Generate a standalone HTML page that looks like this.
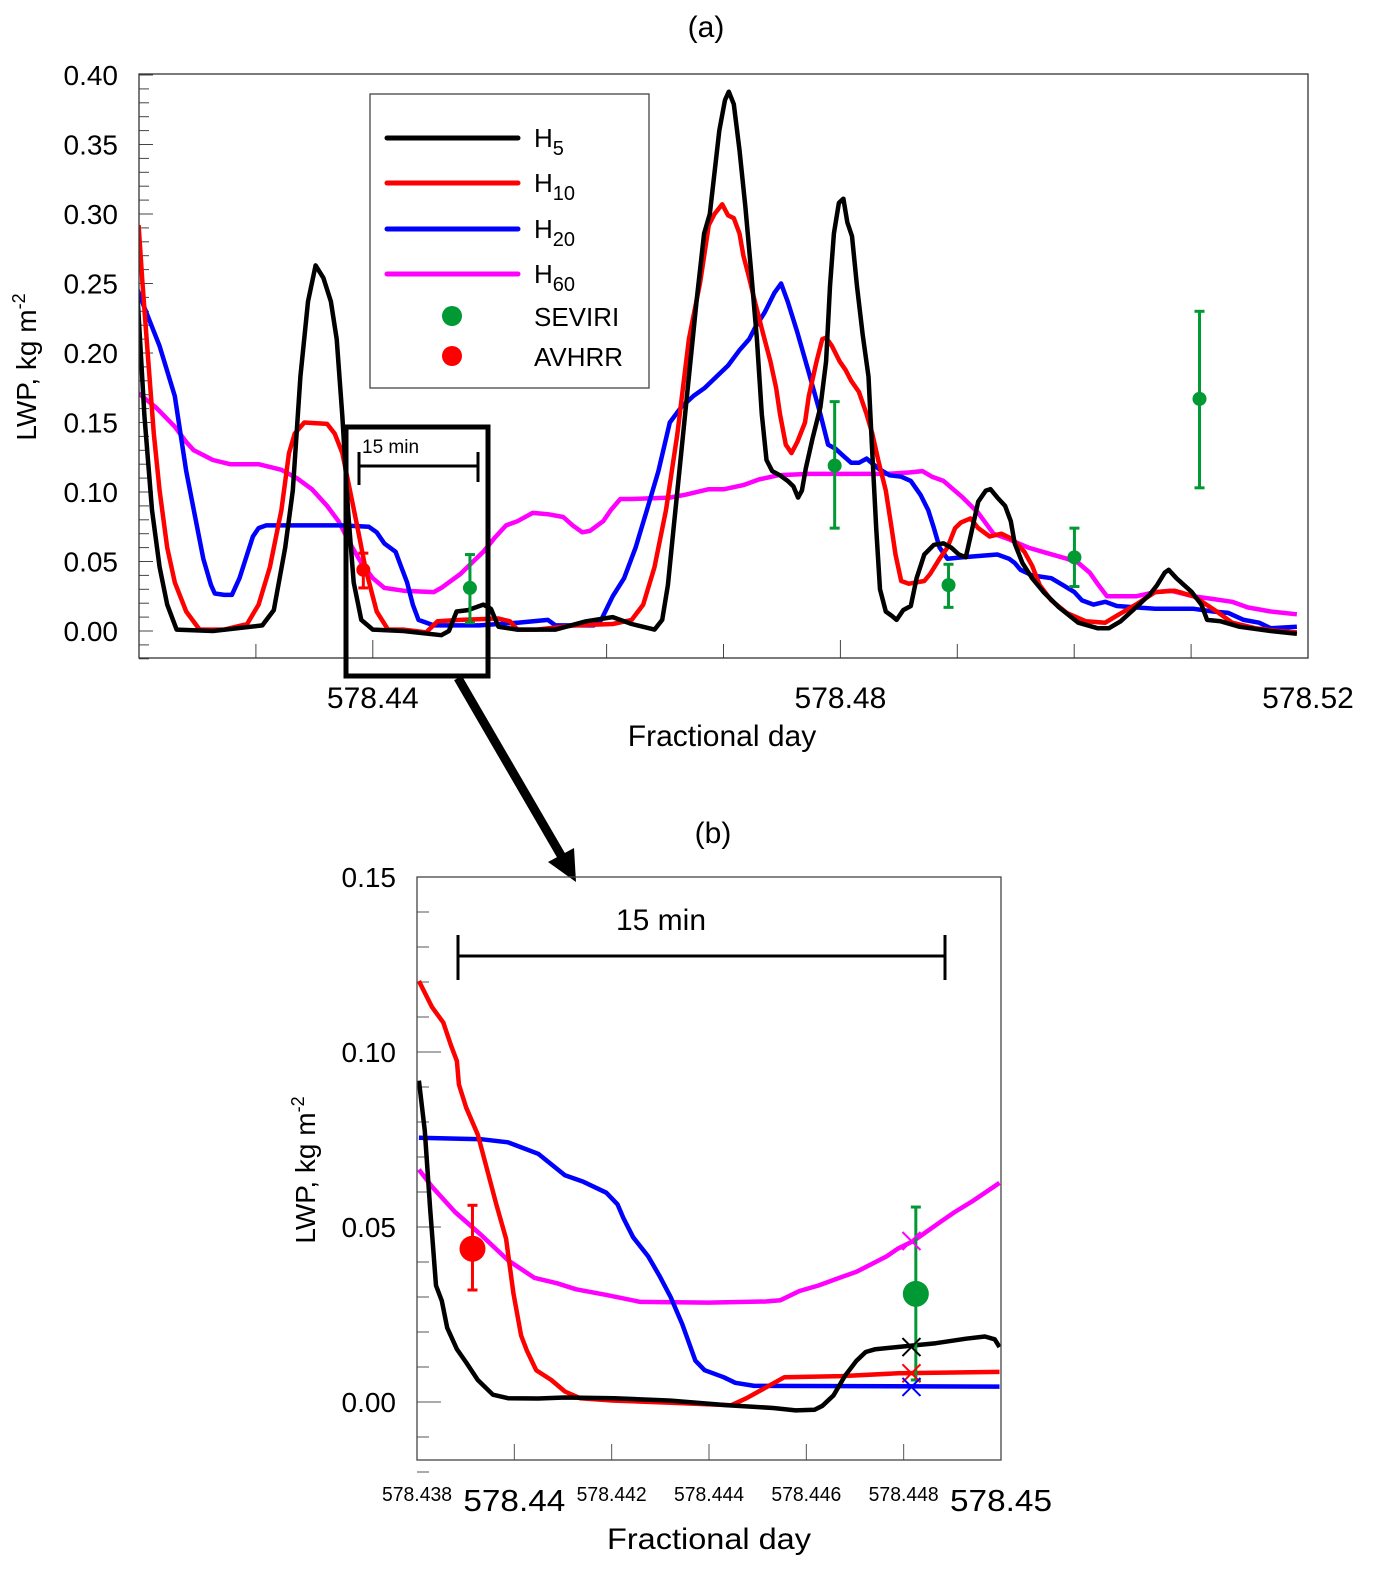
<!DOCTYPE html>
<html><head><meta charset="utf-8"><style>
html,body{margin:0;padding:0;background:#fff;}
svg{display:block;font-family:"Liberation Sans",Arial,sans-serif;}
</style></head><body>
<svg id="fig" width="1383" height="1584" viewBox="0 0 1383 1584" xmlns="http://www.w3.org/2000/svg">
<rect width="1383" height="1584" fill="#fff"/>
</svg>
<script>
// ---------- data: panel (a) ----------
const h5A = [[578.4198,0.251],[578.42046,0.155],[578.42111,0.087],[578.42176,0.046],[578.42241,0.019],[578.42322,0.001],[578.42632,0],[578.43055,0.004],[578.43153,0.015],[578.43251,0.060],[578.43316,0.101],[578.43381,0.183],[578.43446,0.237],[578.43511,0.263],[578.43577,0.254],[578.43642,0.237],[578.43691,0.210],[578.43739,0.155],[578.43788,0.087],[578.43837,0.035],[578.43902,0.008],[578.44,0.001],[578.44261,0],[578.44586,-0.003],[578.44651,0],[578.44717,0.014],[578.44814,0.015],[578.44945,0.019],[578.4501,0.016],[578.45075,0.003],[578.45238,0.001],[578.45564,0.001],[578.45824,0.007],[578.46052,0.010],[578.46215,0.005],[578.4641,0.001],[578.46476,0.008],[578.46524,0.033],[578.46573,0.074],[578.46638,0.128],[578.46704,0.183],[578.46769,0.237],[578.46834,0.286],[578.46883,0.300],[578.46964,0.360],[578.47013,0.382],
[578.47045,0.388],[578.47088,0.379],[578.47137,0.346],[578.47187,0.305],[578.47236,0.259],[578.47286,0.210],[578.47328,0.156],[578.47368,0.123],[578.47417,0.115],[578.47483,0.112],[578.47549,0.108],[578.47598,0.104],[578.47638,0.096],[578.47671,0.101],[578.47704,0.117],[578.47763,0.139],[578.47829,0.161],[578.47878,0.194],[578.47911,0.248],[578.47944,0.286],[578.47987,0.308],[578.48026,0.311],[578.48059,0.294],[578.48099,0.284],[578.48142,0.248],[578.48191,0.213],[578.4824,0.183],[578.48273,0.128],[578.48306,0.074],[578.48339,0.030],[578.48388,0.014],[578.48438,0.011],[578.48481,0.008],[578.48537,0.015],[578.48602,0.018],[578.48652,0.038],[578.48718,0.055],[578.488,0.062],[578.48882,0.063],[578.48948,0.060],[578.49014,0.055],[578.49073,0.053],[578.49113,0.068],[578.49179,0.093],[578.49244,0.101],[578.49284,0.102],[578.49343,0.096],[578.49409,0.090],[578.49458,0.079],[578.49491,0.063],[578.49557,0.049],[578.4964,0.038],[578.49738,0.028],[578.4987,0.017],[578.50035,0.006],[578.50199,0.002],[578.50298,0.002],[578.50397,0.007],[578.50528,0.017],[578.50644,0.026],[578.50709,0.033],[578.50775,0.042],[578.50808,0.044],[578.50874,0.038],[578.51006,0.028],[578.51088,0.019],[578.51137,0.008],[578.51253,0.007],[578.51417,0.003],[578.51681,0],[578.51905,-0.002]];
const h10A = [[578.41997,0.292],[578.42029,0.251],[578.42078,0.196],[578.42127,0.142],[578.42176,0.101],[578.42241,0.060],[578.42306,0.035],[578.42404,0.014],[578.42518,0.001],[578.4273,0.001],[578.42925,0.005],[578.43023,0.019],[578.4312,0.046],[578.43218,0.087],[578.43283,0.128],[578.43332,0.142],[578.43414,0.150],[578.43609,0.149],[578.43674,0.142],[578.43739,0.128],[578.43805,0.101],[578.4387,0.074],[578.43935,0.046],[578.43984,0.030],[578.44033,0.014],[578.4413,0.001],[578.44261,0.001],[578.44456,-0.001],[578.44554,0.007],[578.44749,0.008],[578.45075,0.009],[578.45173,0.007],[578.45238,0.001],[578.45401,0.001],[578.45726,0.004],[578.46052,0.005],[578.46215,0.008],[578.46313,0.019],[578.4641,0.046],[578.46508,0.087],[578.46606,0.142],[578.46704,0.210],[578.46801,0.251],
[578.46874,0.292],[578.46923,0.300],[578.46989,0.307],[578.47039,0.299],[578.47088,0.297],[578.47137,0.286],[578.4717,0.270],[578.4722,0.254],[578.47269,0.237],[578.47335,0.215],[578.47401,0.194],[578.4745,0.175],[578.47483,0.156],[578.47533,0.134],[578.47582,0.128],[578.47631,0.136],[578.47697,0.150],[578.4773,0.169],[578.47796,0.194],[578.47845,0.210],[578.47878,0.211],[578.47928,0.205],[578.47993,0.194],[578.48043,0.188],[578.48092,0.180],[578.48158,0.172],[578.48224,0.156],[578.48273,0.142],[578.48323,0.123],[578.48388,0.101],[578.48438,0.074],[578.48471,0.055],[578.4852,0.036],[578.48586,0.034],[578.48718,0.036],[578.48767,0.041],[578.48849,0.052],[578.48915,0.060],[578.48981,0.074],[578.4903,0.078],[578.49113,0.081],[578.49179,0.074],[578.49277,0.068],[578.49376,0.070],[578.49475,0.066],[578.49574,0.057],[578.4964,0.047],[578.49705,0.033],[578.49804,0.022],[578.49936,0.013],[578.501,0.007],[578.50265,0.006],[578.50364,0.011],[578.50528,0.019],[578.50693,0.028],[578.50858,0.029],[578.51022,0.025],[578.5122,0.014],[578.51351,0.006],[578.51549,0.002],[578.51746,0],[578.51905,-0.001]];
const h20A = [[578.4198,0.247],[578.42078,0.226],[578.42176,0.205],[578.42306,0.169],[578.42404,0.115],[578.42469,0.087],[578.4255,0.052],[578.42616,0.033],[578.42648,0.027],[578.4273,0.026],[578.42795,0.026],[578.4286,0.038],[578.42925,0.055],[578.42974,0.068],[578.43023,0.074],[578.43088,0.076],[578.43446,0.076],[578.43739,0.076],[578.43967,0.075],[578.44033,0.071],[578.44098,0.063],[578.44195,0.057],[578.44244,0.046],[578.44293,0.035],[578.44342,0.019],[578.44391,0.008],[578.44521,0.004],[578.44912,0.004],[578.45238,0.006],[578.45498,0.008],[578.45564,0.004],[578.45726,0.004],[578.45889,0.004],[578.45954,0.008],[578.46052,0.025],[578.4615,0.038],[578.46248,0.060],[578.46345,0.087],[578.46443,0.115],[578.46541,0.150],[578.46638,0.161],
[578.46742,0.169],[578.46841,0.175],[578.4694,0.183],[578.47039,0.191],[578.47137,0.202],[578.4722,0.210],[578.47269,0.218],[578.47351,0.229],[578.47434,0.243],[578.47493,0.250],[578.47549,0.237],[578.47631,0.215],[578.4773,0.186],[578.47829,0.156],[578.47895,0.134],[578.4796,0.131],[578.48026,0.126],[578.48092,0.121],[578.48158,0.121],[578.48224,0.124],[578.48323,0.117],[578.48421,0.112],[578.4852,0.111],[578.48602,0.108],[578.48685,0.098],[578.48751,0.087],[578.488,0.074],[578.48849,0.060],[578.48915,0.052],[578.49047,0.053],[578.49343,0.055],[578.49442,0.052],[578.49491,0.049],[578.49541,0.044],[578.4964,0.040],[578.49804,0.038],[578.49903,0.033],[578.50002,0.028],[578.50067,0.022],[578.50166,0.019],[578.50265,0.021],[578.50364,0.018],[578.50528,0.017],[578.50693,0.016],[578.51022,0.016],[578.51187,0.014],[578.51318,0.013],[578.5145,0.008],[578.51582,0.006],[578.51681,0.002],[578.51905,0.003]];
const h60A = [[578.4198,0.172],[578.42143,0.161],[578.42306,0.147],[578.42404,0.136],[578.42469,0.130],[578.42632,0.123],[578.42779,0.120],[578.43023,0.120],[578.43218,0.116],[578.43349,0.110],[578.43479,0.102],[578.43609,0.090],[578.43707,0.079],[578.43805,0.063],[578.43902,0.049],[578.44,0.038],[578.44098,0.031],[578.44261,0.029],[578.44521,0.028],[578.44586,0.031],[578.44749,0.041],[578.44847,0.049],[578.44945,0.057],[578.45042,0.067],[578.4514,0.076],[578.45238,0.079],[578.45368,0.085],[578.45498,0.084],[578.45629,0.082],[578.4571,0.076],[578.45792,0.071],[578.45857,0.072],[578.45971,0.079],[578.46036,0.087],[578.46117,0.095],[578.46215,0.095],[578.46541,0.096],[578.46671,0.098],
[578.46874,0.102],[578.47006,0.102],[578.4717,0.105],[578.47302,0.109],[578.47467,0.112],[578.4773,0.113],[578.48059,0.113],[578.48388,0.113],[578.48586,0.114],[578.48701,0.115],[578.48784,0.111],[578.48882,0.108],[578.49047,0.096],[578.49179,0.085],[578.4931,0.070],[578.49442,0.066],[578.49607,0.060],[578.49771,0.056],[578.49936,0.052],[578.50035,0.049],[578.50133,0.042],[578.50199,0.034],[578.50281,0.025],[578.50364,0.025],[578.50528,0.025],[578.50693,0.028],[578.50825,0.029],[578.51022,0.025],[578.51187,0.023],[578.51351,0.021],[578.51483,0.017],[578.51681,0.014],[578.51905,0.012]];
// observations: [day, value, low, high]
const seviriA = [[578.44831,0.031,0.006,0.055],[578.47951,0.119,0.074,0.165],[578.48925,0.033,0.017,0.048],[578.50002,0.053,0.032,0.074],[578.51072,0.167,0.103,0.230]];
const avhrrA = [[578.43919,0.044,0.031,0.056]];
const yTicksA = [0,0.05,0.10,0.15,0.20,0.25,0.30,0.35,0.40];
const yTickLabelsA = ["0.00","0.05","0.10","0.15","0.20","0.25","0.30","0.35","0.40"];
const xTicksA = [578.44,578.48,578.52];
const xTickLabelsA = ["578.44","578.48","578.52"];

// ---------- data: panel (b) ----------
const h5B = [[578.43804,0.0918],[578.43816,0.0775],[578.43827,0.0554],[578.43839,0.0333],[578.43851,0.0289],[578.43862,0.0212],[578.43882,0.0151],[578.43901,0.0113],[578.43925,0.0063],[578.43956,0.0021],[578.43987,0.0011],[578.44049,0.001],[578.44104,0.0013],[578.44205,0.0011],[578.44321,0.0004],[578.44438,-0.0009],[578.44532,-0.0017],[578.44578,-0.0024],[578.44617,-0.0022],[578.44633,-0.0011],[578.44656,0.0019],[578.44679,0.0074],[578.44703,0.0118],[578.44722,0.0143],[578.44742,0.0151],[578.44788,0.0157],[578.44866,0.0168],[578.44928,0.0181],[578.44967,0.0187],[578.44987,0.0179],[578.44997,0.0157]];
const h10B = [[578.43804,0.1203],[578.43831,0.1128],[578.43854,0.1084],[578.4387,0.1018],[578.43882,0.0974],[578.43886,0.0907],[578.43901,0.0841],[578.43925,0.0764],[578.43944,0.0664],[578.43963,0.0565],[578.43983,0.0466],[578.43998,0.0311],[578.44014,0.019],[578.44026,0.0146],[578.44045,0.0091],[578.44076,0.0063],[578.44104,0.003],[578.44135,0.0011],[578.44205,0.0004],[578.44321,-0.0002],[578.44446,-0.0009],[578.44477,0.0011],[578.44516,0.0041],[578.44555,0.0071],[578.44672,0.0074],[578.44788,0.0082],[578.44997,0.0086]];
const h20B = [[578.43804,0.0755],[578.43932,0.0751],[578.43987,0.0742],[578.44049,0.0709],[578.44104,0.0648],[578.44142,0.0629],[578.44189,0.0598],[578.44212,0.0565],[578.44224,0.0526],[578.44244,0.0471],[578.44275,0.0416],[578.44298,0.0361],[578.44321,0.030],[578.44345,0.0223],[578.44372,0.0118],[578.44391,0.0091],[578.4443,0.0071],[578.44454,0.0055],[578.44493,0.0046],[578.44997,0.0044]];
const h60B = [[578.43804,0.0664],[578.43831,0.0615],[578.43878,0.0543],[578.43932,0.0477],[578.43987,0.0405],[578.44041,0.0355],[578.44088,0.0339],[578.44127,0.0322],[578.44189,0.0306],[578.44259,0.0286],[578.44399,0.0284],[578.44516,0.0287],[578.44547,0.0291],[578.44586,0.0317],[578.44625,0.0333],[578.44664,0.0353],[578.44703,0.0372],[578.44765,0.0416],[578.44788,0.0438],[578.4482,0.046],[578.44882,0.0521],[578.44905,0.0543],[578.44944,0.0576],[578.44997,0.0626]];
const seviriB = [[578.44825,0.0309,0.0063,0.0557]];
const avhrrB = [[578.43914,0.0438,0.032,0.0562]];
const crossDayB = 578.44816;
const crossValsB = [0.046,0.0157,0.0082,0.0043];
const yTicksB = [0,0.05,0.10,0.15];
const yTickLabelsB = ["0.00","0.05","0.10","0.15"];
const xTicksB = [578.438,578.44,578.442,578.444,578.446,578.448,578.45];
const xTickLabelsB = ["578.438","578.44","578.442","578.444","578.446","578.448","578.45"];

// ---------- layout ----------
const NS = "http://www.w3.org/2000/svg";
const svg = document.getElementById('fig');
const A = {l:139, r:1308, t:74, b:658, x0:578.42, x1:578.52, y0:-0.02, y1:0.40};
const B = {l:417, r:1001, t:877, b:1460, x0:578.438, x1:578.45, y0:-0.02, y1:0.15};
function xa(d){return A.l + (d-A.x0)/(A.x1-A.x0)*(A.r-A.l);}
function ya(v){return 631 + (0-v)/0.40*(631-75);}
function xb(d){return B.l + (d-B.x0)/(B.x1-B.x0)*(B.r-B.l);}
function yb(v){return 1402 - v/0.15*(1402-877);}
function el(tag, attrs, parent){const e=document.createElementNS(NS,tag);for(const k in attrs)e.setAttribute(k,attrs[k]);(parent||svg).appendChild(e);return e;}
function txt(s, attrs, parent){const e=el('text',attrs,parent);e.textContent=s;return e;}

const colors = {h5:'#000', h10:'#ff0000', h20:'#0000ff', h60:'#ff00ff', sev:'#009933', av:'#ff0000'};
const LW = 4.5;

// ---------- panel (a) ----------
const gA = el('g',{});  
const clipA = el('clipPath',{id:'clipA'},gA); el('rect',{x:A.l,y:A.t,width:A.r-A.l,height:A.b-A.t},clipA);
const clipB = el('clipPath',{id:'clipB'},gA); el('rect',{x:B.l,y:B.t,width:B.r-B.l,height:B.b-B.t},clipB);

txt('(a)',{x:706,y:37,'font-size':30,'text-anchor':'middle'},gA);
for(let i=-2;i<=40;i++){
  const v=i/100, y=ya(v); const major=(i%5===0);
  const t=el('line',{x1:A.l,x2:A.l+(major?14:10),y1:y,y2:y,stroke:'#444','stroke-width':1},gA);
   
}
yTicksA.forEach((v,i)=>{const t=txt(yTickLabelsA[i],{x:118,y:ya(v)+10,'font-size':28,'text-anchor':'end'},gA);
   });
for(let i=1;i<10;i++){const d=578.42+i*0.01, x=xa(d);
  const t=el('line',{x1:x,x2:x,y1:A.b,y2:A.b-(i%4===2?18:14),stroke:'#444','stroke-width':1},gA);
   }
xTicksA.forEach((d,i)=>{const t=txt(xTickLabelsA[i],{x:xa(d),y:708,'font-size':30,'text-anchor':'middle'},gA);
   });
const xtA=txt('Fractional day',{x:722,y:746,'font-size':30,'text-anchor':'middle'},gA);
 
const ytA=el('text',{transform:'translate(36,367) rotate(-90)','font-size':28,'text-anchor':'middle'},gA);
ytA.innerHTML='LWP, kg m<tspan dy="-11" font-size="18">-2</tspan>';
 

function line(data, fx, fy, color, w, name, parent, clip){
  const p=el('path',{d:data.map((p,i)=>(i?'L':'M')+fx(p[0]).toFixed(1)+','+fy(p[1]).toFixed(1)).join(''),fill:'none',stroke:color,'stroke-width':w,'stroke-linejoin':'round','clip-path':'url(#'+clip+')'},parent);
    return p;
}
function obs(data, fx, fy, color, r, cap, name, parent){
  data.forEach(o=>{const x=fx(o[0]);
    const g=el('g',{},parent);  
    el('line',{x1:x,x2:x,y1:fy(o[2]),y2:fy(o[3]),stroke:color,'stroke-width':3},g);
    el('line',{x1:x-cap,x2:x+cap,y1:fy(o[2]),y2:fy(o[2]),stroke:color,'stroke-width':3},g);
    el('line',{x1:x-cap,x2:x+cap,y1:fy(o[3]),y2:fy(o[3]),stroke:color,'stroke-width':3},g);
    el('circle',{cx:x,cy:fy(o[1]),r:r,fill:color},g);
  });
}
line(h60A,xa,ya,colors.h60,LW,'h60-line-a',gA,'clipA');
line(h20A,xa,ya,colors.h20,LW,'h20-line-a',gA,'clipA');
line(h10A,xa,ya,colors.h10,LW,'h10-line-a',gA,'clipA');
line(h5A,xa,ya,colors.h5,LW,'h5-line-a',gA,'clipA');
obs(seviriA,xa,ya,colors.sev,7,5,'seviri-point-a',gA);
obs(avhrrA,xa,ya,colors.av,7,5,'avhrr-point-a',gA);
const fa=el('rect',{x:A.l,y:A.t,width:A.r-A.l,height:A.b-A.t,fill:'none',stroke:'#333','stroke-width':1.3},gA);
 

// legend
const lg=el('g',{},gA);  
el('rect',{x:370,y:94,width:279,height:294,fill:'#fff',stroke:'#444','stroke-width':1.3},lg);
[['H','5',colors.h5,138],['H','10',colors.h10,183],['H','20',colors.h20,229],['H','60',colors.h60,274]].forEach(e=>{
  const g=el('g',{},lg);  
  el('line',{x1:387,x2:518,y1:e[3],y2:e[3],stroke:e[2],'stroke-width':5,'stroke-linecap':'round'},g);
  const t=el('text',{x:534,y:e[3]+9,'font-size':26},g);
  t.innerHTML=e[0]+'<tspan dy="8" font-size="20">'+e[1]+'</tspan>';
});
[['SEVIRI',colors.sev,316],['AVHRR',colors.av,356]].forEach(e=>{
  const g=el('g',{},lg);  
  el('circle',{cx:452,cy:e[2],r:10,fill:e[1]},g);
  txt(e[0],{x:534,y:e[2]+10,'font-size':26},g);
});

// zoom box, bracket, arrow
const an=el('g',{},svg);  
el('rect',{x:346,y:427,width:142,height:249,fill:'none',stroke:'#000','stroke-width':5},an);
el('line',{x1:359,x2:478,y1:466,y2:466,stroke:'#000','stroke-width':3},an);
el('line',{x1:359,x2:359,y1:452,y2:485,stroke:'#000','stroke-width':3},an);
el('line',{x1:478,x2:478,y1:452,y2:482,stroke:'#000','stroke-width':3},an);
txt('15 min',{x:362,y:453,'font-size':19},an);
el('line',{x1:458,y1:678,x2:562,y2:857,stroke:'#000','stroke-width':9},an);
el('polygon',{points:'576,882 548,862 574,848',fill:'#000'},an);

// ---------- panel (b) ----------
const gB=el('g',{});  
txt('(b)',{x:713,y:843,'font-size':30,'text-anchor':'middle'},gB);
for(let i=-2;i<=15;i++){const y=yb(i/100); const major=(i%5===0);
  const t=el('line',{x1:B.l,x2:B.l+(major?24:12),y1:y,y2:y,stroke:'#555','stroke-width':1},gB);
   }
yTicksB.forEach((v,i)=>{const t=txt(yTickLabelsB[i],{x:396,y:yb(v)+10,'font-size':28,'text-anchor':'end'},gB);
   });
xTicksB.forEach((d,i)=>{const x=xb(d);
  if(i>0&&i<xTicksB.length-1){const t=el('line',{x1:x,x2:x,y1:B.b,y2:B.b-16,stroke:'#555','stroke-width':1},gB);
     }
  const big=(xTickLabelsB[i].length<7);
  const t=txt(xTickLabelsB[i],{x:x,y:big?1511:1501,'font-size':big?31:20,'text-anchor':'middle',textLength:big?102:70,lengthAdjust:'spacingAndGlyphs'},gB);
   });
const xtB=txt('Fractional day',{x:709,y:1549,'font-size':30,'text-anchor':'middle',textLength:204,lengthAdjust:'spacingAndGlyphs'},gB);
 
const ytB=el('text',{transform:'translate(315,1170) rotate(-90)','font-size':28,'text-anchor':'middle'},gB);
ytB.innerHTML='LWP, kg m<tspan dy="-11" font-size="18">-2</tspan>';
 

line(h60B,xb,yb,colors.h60,LW,'h60-line-b',gB,'clipB');
line(h20B,xb,yb,colors.h20,LW,'h20-line-b',gB,'clipB');
line(h10B,xb,yb,colors.h10,LW,'h10-line-b',gB,'clipB');
line(h5B,xb,yb,colors.h5,LW,'h5-line-b',gB,'clipB');
obs(seviriB,xb,yb,colors.sev,13,5,'seviri-point-b',gB);
obs(avhrrB,xb,yb,colors.av,13,5,'avhrr-point-b',gB);
[colors.h60,colors.h5,colors.h10,colors.h20].forEach((c,i)=>{
  const x=xb(crossDayB), y=yb(crossValsB[i]);
  const g=el('g',{},gB);  
  el('line',{x1:x-9,y1:y-9,x2:x+9,y2:y+9,stroke:c,'stroke-width':2},g);
  el('line',{x1:x-9,y1:y+9,x2:x+9,y2:y-9,stroke:c,'stroke-width':2},g);
});
const fb=el('rect',{x:B.l,y:B.t,width:B.r-B.l,height:B.b-B.t,fill:'none',stroke:'#444','stroke-width':1.3},gB);
 
const br=el('g',{},gB);  
el('line',{x1:458,x2:945,y1:956,y2:956,stroke:'#000','stroke-width':3},br);
el('line',{x1:458,x2:458,y1:935,y2:980,stroke:'#000','stroke-width':3},br);
el('line',{x1:945,x2:945,y1:935,y2:980,stroke:'#000','stroke-width':3},br);
txt('15 min',{x:661,y:930,'font-size':30,'text-anchor':'middle'},br);
</script>
</body></html>
